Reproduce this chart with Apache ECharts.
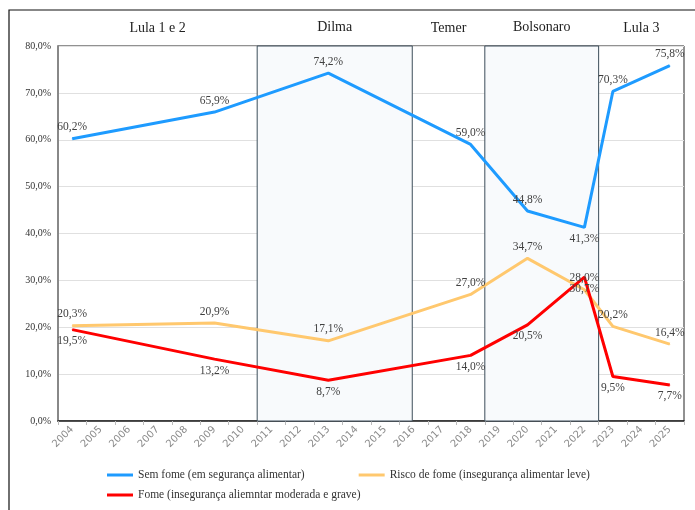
<!DOCTYPE html>
<html>
<head>
<meta charset="utf-8">
<script src="https://cdn.jsdelivr.net/npm/echarts@6/dist/echarts.min.js"></script>
<style>
  html, body { margin: 0; padding: 0; background: #fff; }
  #chart { width: 695px; height: 510px; }
</style>
</head>
<body>
<div id="chart"></div>
<script>
// anos do eixo x
const years = ['2004','2005','2006','2007','2008','2009','2010','2011','2012','2013','2014',
  '2015','2016','2017','2018','2019','2020','2021','2022','2023','2024','2025'];

// séries (null = sem pesquisa naquele ano)
const semFome = [60.2,null,null,null,null,65.9,null,null,null,74.2,null,null,null,null,59.0,null,44.8,null,41.3,70.3,null,75.8];
const riscoFome = [20.3,null,null,null,null,20.9,null,null,null,17.1,null,null,null,null,27.0,null,34.7,null,28.0,20.2,null,16.4];
const fome = [19.5,null,null,null,null,13.2,null,null,null,8.7,null,null,null,null,14.0,null,20.5,null,30.7,9.5,null,7.7];

const seriesNames = [
  'Sem fome (em segurança alimentar)',
  'Risco de fome (insegurança alimentar leve)',
  'Fome (insegurança aliemntar moderada e grave)'
];

// mandatos: nome, início, fim (em anos), sombreado
const periodNames = ['Lula 1 e 2', 'Dilma', 'Temer', 'Bolsonaro', 'Lula 3'];
const periodStart = [2003.5, 2010.5, 2015.95, 2018.5, 2022.5];
const periodEnd = [2010.5, 2015.95, 2018.5, 2022.5, 2025.5];
const periodShaded = [false, true, false, true, false];

const yTicks = [0, 80, 10]; // min, max, intervalo

const fmt = v => v.toFixed(1).replace('.', ',') + '%';
const serif = 'Liberation Serif';

const chart = echarts.init(document.getElementById('chart'));

function lineSeries(name, data, color, pos) {
  return {
    name: name,
    type: 'line',
    data: data,
    connectNulls: true,
    symbol: 'circle',
    symbolSize: 1,
    showSymbol: true,
    z: 5,
    lineStyle: { color: color, width: 3 },
    itemStyle: { color: color },
    label: {
      show: true,
      position: pos,
      distance: 5,
      fontFamily: serif,
      fontSize: 11.5,
      color: '#404040',
      formatter: p => fmt(p.value)
    }
  };
}

const blue = lineSeries(seriesNames[0], semFome, '#1e9bff', 'top');
// rótulo de 2022 abaixo do ponto
blue.data = semFome.map((v, i) => (years[i] === '2022' && v != null)
  ? { value: v, label: { position: 'bottom' } } : v);

const legendText = { fontFamily: serif, fontSize: 11.5, color: '#333' };

const option = {
  animation: false,
  backgroundColor: '#fff',
  graphic: [{
    type: 'rect',
    shape: { x: 9, y: 10, width: 720, height: 540 },
    style: { fill: 'none', stroke: '#111', lineWidth: 1.2 },
    silent: true
  }],
  grid: {
    left: 58, right: 11, top: 46, bottom: 89,
    show: true, borderColor: '#222', borderWidth: 1
  },
  legend: [{
    data: [seriesNames[0], seriesNames[1]],
    left: 102, top: 464,
    itemWidth: 26, itemHeight: 3, itemGap: 54,
    icon: 'rect',
    textStyle: legendText
  }, {
    data: [seriesNames[2]],
    left: 102, top: 484,
    itemWidth: 26, itemHeight: 3,
    icon: 'rect',
    textStyle: legendText
  }],
  xAxis: [{
    type: 'category',
    data: years,
    boundaryGap: true,
    axisLine: { lineStyle: { color: '#222', width: 1.5 } },
    axisTick: { show: true, length: 4, lineStyle: { color: '#bbb' } },
    axisLabel: { rotate: 45, fontSize: 10, color: '#8a8a8a', fontFamily: 'DejaVu Sans', margin: 7 }
  }, {
    type: 'value',
    min: periodStart[0],
    max: periodEnd[periodEnd.length - 1],
    show: false
  }],
  yAxis: {
    type: 'value',
    min: yTicks[0], max: yTicks[1], interval: yTicks[2],
    axisLine: { show: true, lineStyle: { color: '#888', width: 2 } },
    axisTick: { show: false },
    splitLine: { lineStyle: { color: '#e0e0e0' } },
    axisLabel: { fontFamily: serif, fontSize: 10, color: '#333', margin: 7, formatter: v => fmt(v) }
  },
  series: [
    {
      name: 'mandatos',
      type: 'line',
      xAxisIndex: 1,
      data: [],
      z: 1,
      silent: true,
      markArea: {
        silent: true,
        data: periodNames.map((n, i) => [{
          name: n,
          xAxis: periodStart[i],
          itemStyle: periodShaded[i]
            ? { color: '#f8fafc', borderColor: '#3c4d5a', borderWidth: 1 }
            : { color: 'rgba(0,0,0,0)', borderWidth: 0 },
          label: {
            show: true, position: 'top', distance: 11,
            fontFamily: serif, fontSize: 14, color: '#222'
          }
        }, { xAxis: periodEnd[i] }])
      }
    },
    blue,
    lineSeries(seriesNames[1], riscoFome, '#ffc86e', 'top'),
    lineSeries(seriesNames[2], fome, '#ff0000', 'bottom')
  ]
};

chart.setOption(option);
</script>
</body>
</html>
